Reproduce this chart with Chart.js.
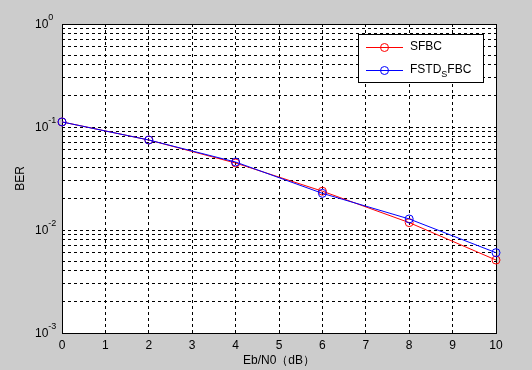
<!DOCTYPE html>
<html>
<head>
<meta charset="utf-8">
<script src="https://cdn.jsdelivr.net/npm/chart.js@4.4.1/dist/chart.umd.min.js"></script>
<style>
  html, body { margin: 0; padding: 0; background: #cccccc; }
  #wrap { width: 532px; height: 370px; }
</style>
</head>
<body>
<div id="wrap"><canvas id="berChart" width="532" height="370"></canvas></div>
<script>
// Eb/N0 sample points (dB)
const snrDb = [0, 2, 4, 6, 8, 10];
// BER values
const berSfbc = [0.112, 0.0748, 0.0447, 0.0238, 0.0118, 0.00511];
const berFstd = [0.112, 0.0748, 0.0457, 0.0227, 0.0128, 0.00602];

const seriesNames = ['SFBC', 'FSTD_{S}FBC'];
const seriesColors = ['#ff0000', '#0000ff'];

// axis ticks
const xTicks = [0, 1, 2, 3, 4, 5, 6, 7, 8, 9, 10];
const yDecades = [0.001, 0.01, 0.1, 1];
const yDecadeExps = ['-3', '-2', '-1', '0'];
const yMinorSteps = [2, 3, 4, 5, 6, 7, 8, 9];

const FONT = "'Liberation Sans', Arial, Helvetica, sans-serif";

// grid lines at every decade and every minor step inside it
const yGrid = [];
yDecades.forEach((d, i) => {
    yGrid.push(d);
    if (i < yDecades.length - 1) {
        yMinorSteps.forEach(m => yGrid.push(+(m * d).toPrecision(3)));
    }
});

function toPoints(xs, ys) {
    return xs.map((x, i) => ({ x: x, y: ys[i] }));
}

// draws text with MATLAB style _{sub} pieces
function drawTex(ctx, text, x, y, size) {
    const parts = text.split(/(_\{[^}]*\})/).filter(p => p.length);
    let cx = x;
    parts.forEach(p => {
        if (p.startsWith('_{')) {
            const s = p.slice(2, -1);
            ctx.font = Math.round(size * 0.75) + 'px ' + FONT;
            ctx.fillText(s, cx, y + 5);
            cx += ctx.measureText(s).width;
        } else {
            ctx.font = size + 'px ' + FONT;
            ctx.fillText(p, cx, y);
            cx += ctx.measureText(p).width;
        }
    });
}

const matlabAxes = {
    id: 'matlabAxes',
    beforeDraw(chart) {
        const { ctx, chartArea: a } = chart;
        ctx.save();
        ctx.fillStyle = '#cccccc';
        ctx.fillRect(0, 0, chart.width, chart.height);
        ctx.fillStyle = '#ffffff';
        ctx.fillRect(a.left, a.top, a.right - a.left, a.bottom - a.top);
        ctx.restore();
    },
    beforeDatasetsDraw(chart) {
        const { ctx, chartArea: a } = chart;
        ctx.save();
        ctx.strokeStyle = '#000000';
        ctx.lineWidth = 1;
        ctx.strokeRect(Math.round(a.left) + 0.5, Math.round(a.top) + 0.5,
            Math.round(a.right - a.left), Math.round(a.bottom - a.top));
        ctx.restore();
    },
    afterDraw(chart) {
        const ctx = chart.ctx;
        const yScale = chart.scales.y;
        ctx.save();
        ctx.fillStyle = '#000000';
        ctx.textBaseline = 'middle';
        ctx.textAlign = 'left';

        // y tick labels: 10^n
        yDecades.forEach((d, i) => {
            const py = yScale.getPixelForValue(d);
            ctx.font = '12px ' + FONT;
            ctx.fillText('10', 35, py + 1);
            const w = ctx.measureText('10').width;
            ctx.font = '9px ' + FONT;
            ctx.fillText(yDecadeExps[i], 35 + w, py - 6);
        });

        // legend
        const box = { x: 358, y: 34, w: 125, h: 48 };
        ctx.fillStyle = '#ffffff';
        ctx.fillRect(box.x, box.y, box.w, box.h);
        ctx.strokeStyle = '#000000';
        ctx.lineWidth = 1;
        ctx.strokeRect(box.x + 0.5, box.y + 0.5, box.w, box.h);

        seriesNames.forEach((name, i) => {
            const ry = box.y + 13 + i * 22.5;
            ctx.strokeStyle = seriesColors[i];
            ctx.beginPath();
            ctx.moveTo(366, Math.round(ry) + 0.5);
            ctx.lineTo(403, Math.round(ry) + 0.5);
            ctx.stroke();
            ctx.beginPath();
            ctx.arc(384.5, Math.round(ry) + 0.5, 4, 0, Math.PI * 2);
            ctx.stroke();
            ctx.fillStyle = '#000000';
            drawTex(ctx, name, 410, ry, 12);
        });
        ctx.restore();
    }
};

const ctx = document.getElementById('berChart').getContext('2d');
new Chart(ctx, {
    type: 'line',
    data: {
        datasets: [
            {
                label: seriesNames[0],
                data: toPoints(snrDb, berSfbc),
                borderColor: seriesColors[0],
                pointBorderColor: seriesColors[0],
                order: 1
            },
            {
                label: seriesNames[1],
                data: toPoints(snrDb, berFstd),
                borderColor: seriesColors[1],
                pointBorderColor: seriesColors[1],
                order: 0
            }
        ]
    },
    options: {
        responsive: false,
        animation: false,
        layout: { padding: { top: 24, right: 36, bottom: 0, left: 0 }, autoPadding: false },
        elements: {
            line: { borderWidth: 1, tension: 0, fill: false },
            point: { radius: 4, borderWidth: 1, backgroundColor: 'rgba(0,0,0,0)', pointStyle: 'circle' }
        },
        datasets: { line: { clip: false } },
        plugins: { legend: { display: false }, tooltip: { enabled: false } },
        scales: {
            x: {
                type: 'linear',
                min: 0,
                max: 10,
                afterFit: s => { s.height = 37; },
                afterBuildTicks: s => { s.ticks = xTicks.map(v => ({ value: v })); },
                grid: { color: '#000000', lineWidth: 1, drawTicks: false },
                border: { display: false, dash: [3, 3] },
                ticks: { autoSkip: false, maxRotation: 0, padding: 5, color: '#000000', font: { family: FONT, size: 12 } },
                title: { display: true, text: 'Eb/N0（dB）', color: '#000000', font: { family: FONT, size: 12 }, padding: { top: 0, bottom: 2 } }
            },
            y: {
                type: 'logarithmic',
                min: 0.001,
                max: 1,
                afterFit: s => { s.width = 62; },
                afterBuildTicks: s => { s.ticks = yGrid.map(v => ({ value: v })); },
                grid: { color: '#000000', lineWidth: 1, drawTicks: false },
                border: { display: false, dash: [3, 3] },
                ticks: { autoSkip: false, callback: () => '' },
                title: { display: true, text: 'BER', color: '#000000', font: { family: FONT, size: 12 }, padding: { top: 13, bottom: 0 } }
            }
        }
    },
    plugins: [matlabAxes]
});
</script>
</body>
</html>
